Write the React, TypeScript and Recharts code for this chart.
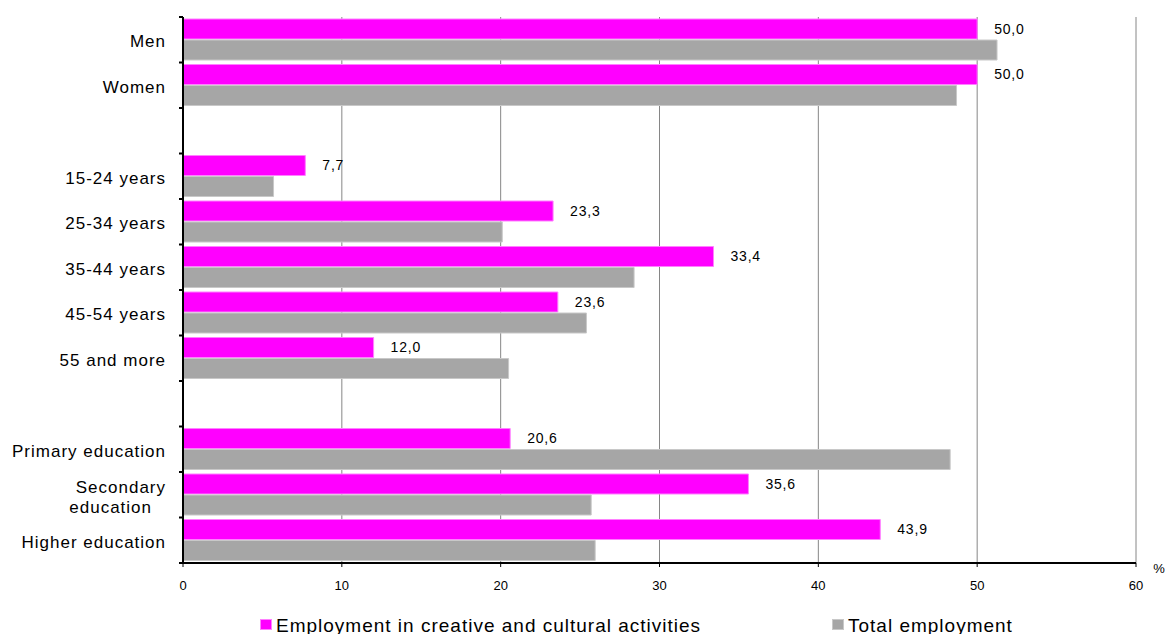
import React from 'react';
import {
  BarChart,
  Bar,
  XAxis,
  YAxis,
  CartesianGrid,
  Legend,
  LabelList,
} from 'recharts';

// Share of employment by sex, age group and education level (%)
const categories = [
  'Men',
  'Women',
  '',
  '15-24 years',
  '25-34 years',
  '35-44 years',
  '45-54 years',
  '55 and more',
  '',
  'Primary education',
  'Secondary\neducation',
  'Higher education',
];

const creativeEmployment: (number | null)[] = [
  50.0, 50.0, null, 7.7, 23.3, 33.4, 23.6, 12.0, null, 20.6, 35.6, 43.9,
];

const totalEmployment: (number | null)[] = [
  51.25, 48.7, null, 5.7, 20.1, 28.4, 25.4, 20.5, null, 48.3, 25.7, 25.95,
];

const xTicks = [0, 10, 20, 30, 40, 50, 60];

const seriesNames = {
  creative: 'Employment in creative and cultural activities',
  total: 'Total employment',
};

const rows = categories.map((label, i) => ({
  id: i,
  label,
  creative: creativeEmployment[i],
  total: totalEmployment[i],
}));

// layout
const WIDTH = 1168;
const HEIGHT = 634;
const MARGIN = { top: 17, right: 32, bottom: 0, left: 0 };
const Y_AXIS_WIDTH = 183;
const X_AXIS_HEIGHT = 41;
const LEGEND_HEIGHT = 30;
const PLOT_HEIGHT = HEIGHT - MARGIN.top - MARGIN.bottom - X_AXIS_HEIGHT - LEGEND_HEIGHT;
const BAND = PLOT_HEIGHT / categories.length;

const FONT = '"Liberation Sans", Arial, Helvetica, sans-serif';
const MAGENTA = '#ff00ff';
const MAGENTA_EDGE = '#ff80ff';
const GREY = '#a6a6a6';
const GREY_EDGE = '#c8c8c8';

const Y_TICK_SIZE = 4;
const Y_TICK_MARGIN = 13;
const X_TICK_SIZE = 4;
const X_TICK_MARGIN = 14;

const formatValue = (v: unknown) =>
  v === null || v === undefined || v === '' ? '' : Number(v).toFixed(1).replace('.', ',');

// Category labels, with tick marks placed on the band boundaries
function CategoryTick(props: any) {
  const { x, y, payload } = props;
  const idx = Number(payload.value);
  const axisX = x + Y_TICK_SIZE + Y_TICK_MARGIN;
  const half = payload && typeof payload.offset === 'number' && payload.offset > 0 ? payload.offset : BAND / 2;
  const lines = (categories[idx] || '').split('\n');
  const textProps = {
    fill: '#000',
    fontSize: 17,
    fontFamily: FONT,
    letterSpacing: 1,
    textAnchor: 'end' as const,
  };
  return (
    <g>
      <line x1={axisX - Y_TICK_SIZE} x2={axisX} y1={y - half} y2={y - half} stroke="#000" strokeWidth={2} />
      {idx === categories.length - 1 && (
        <line x1={axisX - Y_TICK_SIZE} x2={axisX} y1={y + half} y2={y + half} stroke="#000" strokeWidth={2} />
      )}
      {lines.length === 1 ? (
        <text x={x} y={y + 7.5} {...textProps}>
          {lines[0]}
        </text>
      ) : (
        <text x={x} y={y - 1.5} {...textProps}>
          <tspan x={x}>{lines[0]}</tspan>
          <tspan x={x - 14} dy={20}>
            {lines[1]}
          </tspan>
        </text>
      )}
    </g>
  );
}

function ValueTick(props: any) {
  const { x, y, payload } = props;
  const axisY = y - X_TICK_SIZE - X_TICK_MARGIN;
  const isLast = payload.value === xTicks[xTicks.length - 1];
  return (
    <g>
      <text x={x} y={y} dy="0.71em" textAnchor="middle" fill="#000" fontSize={13} fontFamily={FONT}>
        {payload.value}
      </text>
      {isLast && (
        <text x={x + 23} y={axisY + 10} textAnchor="middle" fill="#000" fontSize={13} fontFamily={FONT}>
          %
        </text>
      )}
    </g>
  );
}

function LegendContent() {
  const item = (left: number, color: string, edge: string, text: string) => (
    <div style={{ position: 'absolute', left, top: 0, height: LEGEND_HEIGHT }}>
      <span
        style={{
          position: 'absolute',
          left: 0,
          top: 15,
          width: 12,
          height: 11,
          background: color,
          boxShadow: `inset 0 0 0 1px ${edge}`,
        }}
      />
      <span
        style={{
          position: 'absolute',
          left: 16,
          top: 11.5,
          fontSize: 19,
          lineHeight: '19px',
          letterSpacing: 1,
          whiteSpace: 'nowrap',
          color: '#000',
          fontFamily: FONT,
        }}
      >
        {text}
      </span>
    </div>
  );
  return (
    <div style={{ position: 'relative', width: WIDTH, height: LEGEND_HEIGHT }}>
      {item(260, MAGENTA, MAGENTA_EDGE, seriesNames.creative)}
      {item(832, GREY, GREY_EDGE, seriesNames.total)}
    </div>
  );
}

export default function App() {
  return (
    <div style={{ position: 'absolute', left: 0, top: 0, width: WIDTH, height: HEIGHT, background: '#fff', fontFamily: FONT }}>
      <BarChart
        width={WIDTH}
        height={HEIGHT}
        data={rows}
        layout="vertical"
        margin={MARGIN}
        barSize={20}
        barGap={1}
      >
        <CartesianGrid horizontal={false} stroke="#868686" strokeWidth={1} />
        <XAxis
          type="number"
          domain={[0, 60]}
          ticks={xTicks}
          interval={0}
          height={X_AXIS_HEIGHT}
          axisLine={{ stroke: '#000', strokeWidth: 2 }}
          tickLine={{ stroke: '#000', strokeWidth: 1 }}
          tickSize={X_TICK_SIZE}
          tickMargin={X_TICK_MARGIN}
          tick={<ValueTick />}
        />
        <YAxis
          type="category"
          dataKey="id"
          width={Y_AXIS_WIDTH}
          interval={0}
          axisLine={{ stroke: '#000', strokeWidth: 2 }}
          tickLine={false}
          tickSize={Y_TICK_SIZE}
          tickMargin={Y_TICK_MARGIN}
          tick={<CategoryTick />}
        />
        <Legend
          verticalAlign="bottom"
          layout="horizontal"
          height={LEGEND_HEIGHT}
          wrapperStyle={{ left: 0, width: WIDTH, height: LEGEND_HEIGHT }}
          content={<LegendContent />}
        />
        <Bar
          dataKey="creative"
          name={seriesNames.creative}
          fill={MAGENTA}
          stroke={MAGENTA_EDGE}
          strokeWidth={1}
          isAnimationActive={false}
        >
          <LabelList
            dataKey="creative"
            position="right"
            offset={17}
            formatter={formatValue}
            fill="#000"
            fontSize={14}
            fontFamily={FONT}
            style={{ letterSpacing: 0.8 }}
          />
        </Bar>
        <Bar
          dataKey="total"
          name={seriesNames.total}
          fill={GREY}
          stroke={GREY_EDGE}
          strokeWidth={1}
          isAnimationActive={false}
        />
      </BarChart>
    </div>
  );
}
